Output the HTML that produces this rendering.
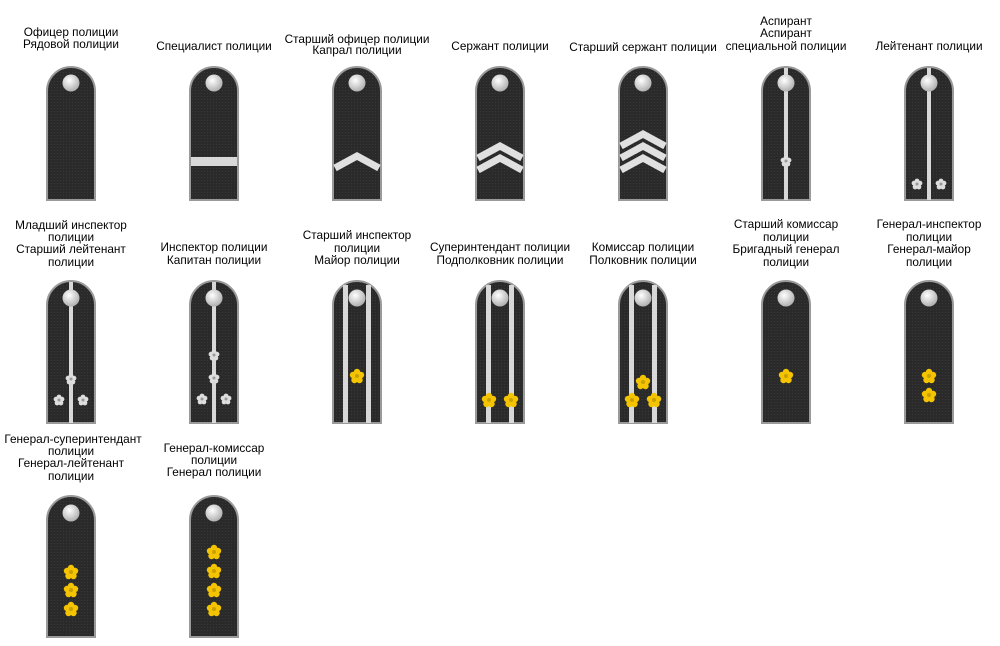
<!DOCTYPE html>
<html><head><meta charset="utf-8"><style>
html,body{margin:0;padding:0;background:#fff;width:1000px;height:646px;overflow:hidden}
text{font-family:"Liberation Sans",sans-serif;font-size:11.8px;fill:#000;text-anchor:middle}
</style></head><body>
<svg width="1000" height="646" viewBox="0 0 1000 646" xmlns="http://www.w3.org/2000/svg">
<defs>
<radialGradient id="btn" cx="0.4" cy="0.35" r="0.7"><stop offset="0" stop-color="#fff"/><stop offset="1" stop-color="#aaa"/></radialGradient>
<pattern id="mesh" width="3" height="3" patternUnits="userSpaceOnUse"><rect width="3" height="3" fill="#2a2a2a"/><rect width="1" height="1" fill="#383838"/></pattern>
<g id="gs"><circle cx="0" cy="-4" r="3.2" fill="#f5c400"/><circle cx="4" cy="-1" r="3.2" fill="#f5c400"/><circle cx="2.5" cy="4" r="3.2" fill="#f5c400"/><circle cx="-2.5" cy="4" r="3.2" fill="#f5c400"/><circle cx="-4" cy="-1" r="3.2" fill="#f5c400"/><circle r="2" fill="#c9a000"/></g>
<g id="ss"><circle cx="0" cy="-3" r="2.4" fill="#ddd"/><circle cx="3" cy="-0.8" r="2.4" fill="#ddd"/><circle cx="1.9" cy="3" r="2.4" fill="#ddd"/><circle cx="-1.9" cy="3" r="2.4" fill="#ddd"/><circle cx="-3" cy="-0.8" r="2.4" fill="#ddd"/><circle r="1.5" fill="#999"/></g>
</defs>
<g fill="url(#mesh)" stroke="#9a9a9a" stroke-width="2">
<path d="M47,200 V91 A24,24 0 0 1 95,91 V200 Z"/>
<path d="M190,200 V91 A24,24 0 0 1 238,91 V200 Z"/>
<path d="M333,200 V91 A24,24 0 0 1 381,91 V200 Z"/>
<path d="M476,200 V91 A24,24 0 0 1 524,91 V200 Z"/>
<path d="M619,200 V91 A24,24 0 0 1 667,91 V200 Z"/>
<path d="M762,200 V91 A24,24 0 0 1 810,91 V200 Z"/>
<path d="M905,200 V91 A24,24 0 0 1 953,91 V200 Z"/>
<path d="M47,423 V305 A24,24 0 0 1 95,305 V423 Z"/>
<path d="M190,423 V305 A24,24 0 0 1 238,305 V423 Z"/>
<path d="M333,423 V305 A24,24 0 0 1 381,305 V423 Z"/>
<path d="M476,423 V305 A24,24 0 0 1 524,305 V423 Z"/>
<path d="M619,423 V305 A24,24 0 0 1 667,305 V423 Z"/>
<path d="M762,423 V305 A24,24 0 0 1 810,305 V423 Z"/>
<path d="M905,423 V305 A24,24 0 0 1 953,305 V423 Z"/>
<path d="M47,637 V520 A24,24 0 0 1 95,520 V637 Z"/>
<path d="M190,637 V520 A24,24 0 0 1 238,520 V637 Z"/>
</g>
<g fill="#d8d8d8">
<rect x="191" y="157" width="46" height="9"/>
<rect x="784" y="68" width="4" height="132"/>
<rect x="927" y="68" width="4" height="132"/>
<rect x="69" y="282" width="4" height="141"/>
<rect x="212" y="282" width="4" height="141"/>
<rect x="343" y="285" width="5" height="138"/><rect x="366" y="285" width="5" height="138"/>
<rect x="486" y="285" width="5" height="138"/><rect x="509" y="285" width="5" height="138"/>
<rect x="629" y="285" width="5" height="138"/><rect x="652" y="285" width="5" height="138"/>
</g>
<g fill="none" stroke="#e0e0e0" stroke-width="7" stroke-linejoin="miter">
<path d="M335,168 L357,156 L379,168"/>
<path d="M478,158 L500,146 L522,158"/><path d="M478,170 L500,158 L522,170"/>
<path d="M621,146 L643,134 L665,146"/><path d="M621,158 L643,146 L665,158"/><path d="M621,170 L643,158 L665,170"/>
</g>
<g fill="url(#btn)">
<circle cx="71" cy="83" r="8.5"/><circle cx="214" cy="83" r="8.5"/><circle cx="357" cy="83" r="8.5"/><circle cx="500" cy="83" r="8.5"/><circle cx="643" cy="83" r="8.5"/><circle cx="786" cy="83" r="8.5"/><circle cx="929" cy="83" r="8.5"/>
<circle cx="71" cy="298" r="8.5"/><circle cx="214" cy="298" r="8.5"/><circle cx="357" cy="298" r="8.5"/><circle cx="500" cy="298" r="8.5"/><circle cx="643" cy="298" r="8.5"/><circle cx="786" cy="298" r="8.5"/><circle cx="929" cy="298" r="8.5"/>
<circle cx="71" cy="513" r="8.5"/><circle cx="214" cy="513" r="8.5"/>
</g>
<use href="#ss" x="786" y="161"/>
<use href="#ss" x="917" y="184"/><use href="#ss" x="941" y="184"/>
<use href="#ss" x="59" y="400"/><use href="#ss" x="83" y="400"/><use href="#ss" x="71" y="379"/>
<use href="#ss" x="202" y="399"/><use href="#ss" x="226" y="399"/><use href="#ss" x="214" y="378"/><use href="#ss" x="214" y="355"/>
<use href="#gs" x="357" y="376"/>
<use href="#gs" x="489" y="400"/><use href="#gs" x="511" y="400"/>
<use href="#gs" x="632" y="400"/><use href="#gs" x="654" y="400"/><use href="#gs" x="643" y="382"/>
<use href="#gs" x="786" y="376"/>
<use href="#gs" x="929" y="376"/><use href="#gs" x="929" y="395"/>
<use href="#gs" x="71" y="572"/><use href="#gs" x="71" y="590"/><use href="#gs" x="71" y="609"/>
<use href="#gs" x="214" y="552"/><use href="#gs" x="214" y="571"/><use href="#gs" x="214" y="590"/><use href="#gs" x="214" y="609"/>
<text x="71" y="36">Офицер полиции</text><text x="71" y="48">Рядовой полиции</text>
<text x="214" y="50">Специалист полиции</text>
<text x="357" y="43">Старший офицер полиции</text><text x="357" y="54">Капрал полиции</text>
<text x="500" y="50">Сержант полиции</text>
<text x="643" y="51">Старший сержант полиции</text>
<text x="786" y="25">Аспирант</text><text x="786" y="37">Аспирант</text><text x="786" y="50">специальной полиции</text>
<text x="929" y="50">Лейтенант полиции</text>
<text x="71" y="229">Младший инспектор</text><text x="71" y="241">полиции</text><text x="71" y="253">Старший лейтенант</text><text x="71" y="266">полиции</text>
<text x="214" y="251">Инспектор полиции</text><text x="214" y="264">Капитан полиции</text>
<text x="357" y="239">Старший инспектор</text><text x="357" y="252">полиции</text><text x="357" y="264">Майор полиции</text>
<text x="500" y="251">Суперинтендант полиции</text><text x="500" y="264">Подполковник полиции</text>
<text x="643" y="251">Комиссар полиции</text><text x="643" y="264">Полковник полиции</text>
<text x="786" y="228">Старший комиссар</text><text x="786" y="241">полиции</text><text x="786" y="253">Бригадный генерал</text><text x="786" y="266">полиции</text>
<text x="929" y="228">Генерал-инспектор</text><text x="929" y="241">полиции</text><text x="929" y="253">Генерал-майор</text><text x="929" y="266">полиции</text>
<text x="73" y="443">Генерал-суперинтендант</text><text x="71" y="455">полиции</text><text x="71" y="467">Генерал-лейтенант</text><text x="71" y="480">полиции</text>
<text x="214" y="452">Генерал-комиссар</text><text x="214" y="464">полиции</text><text x="214" y="476">Генерал полиции</text>
</svg>
</body></html>
